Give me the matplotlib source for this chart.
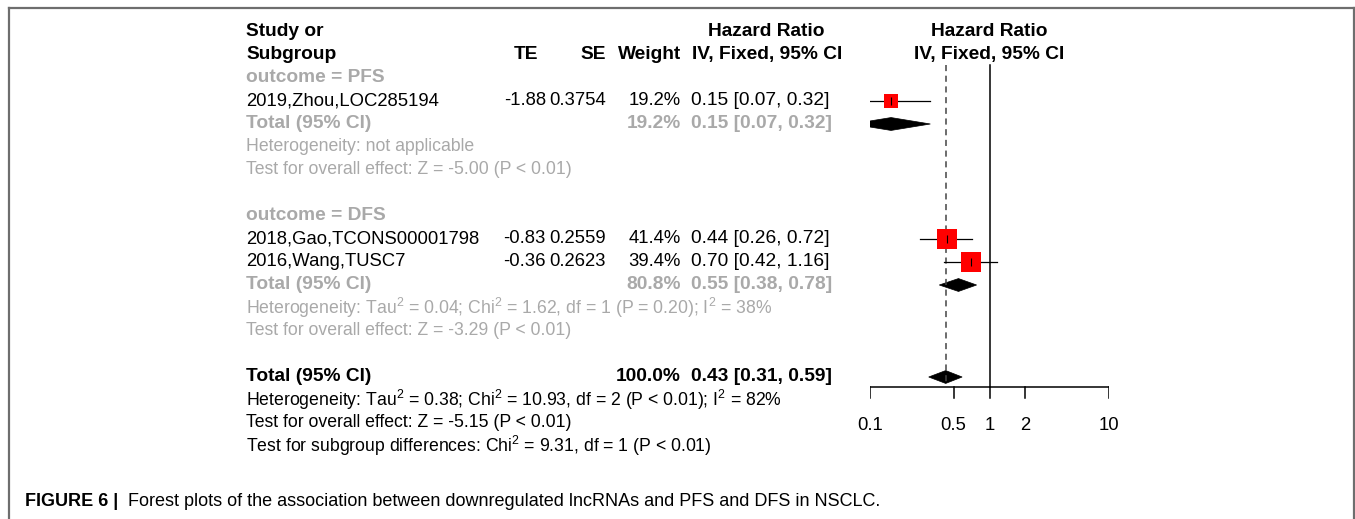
import matplotlib
matplotlib.use("Agg")
import matplotlib.pyplot as plt
from matplotlib.lines import Line2D
from matplotlib.patches import Polygon

plt.rcParams['font.family'] = ['Liberation Sans', 'DejaVu Sans']
plt.rcParams['mathtext.fontset'] = 'custom'
plt.rcParams['mathtext.rm'] = 'Liberation Sans'
plt.rcParams['mathtext.it'] = 'Liberation Sans:italic'
plt.rcParams['mathtext.bf'] = 'Liberation Sans:bold'

# Study level data
studies = ["2019,Zhou,LOC285194", "2018,Gao,TCONS00001798", "2016,Wang,TUSC7"]
study_rows = [3, 9, 10]
te = [-1.88, -0.83, -0.36]
se = [0.3754, 0.2559, 0.2623]
weight = [19.2, 41.4, 39.4]
hr = [0.15, 0.44, 0.70]
hr_lo = [0.07, 0.26, 0.42]
hr_hi = [0.32, 0.72, 1.16]

# Subgroup totals
subgroups = ["PFS", "DFS"]
sub_label_rows = [2, 8]
sub_total_rows = [4, 11]
sub_weight = [19.2, 80.8]
sub_hr = [0.15, 0.55]
sub_lo = [0.07, 0.38]
sub_hi = [0.32, 0.78]
sub_het = ["Heterogeneity: not applicable",
           "Heterogeneity: Tau$^2$ = 0.04; Chi$^2$ = 1.62, df = 1 (P = 0.20); I$^2$ = 38%"]
sub_test = ["Test for overall effect: Z = -5.00 (P < 0.01)",
            "Test for overall effect: Z = -3.29 (P < 0.01)"]

# Overall
total_row = 15
total_weight = 100.0
total_hr = 0.43
total_lo = 0.31
total_hi = 0.59
total_notes = ["Heterogeneity: Tau$^2$ = 0.38; Chi$^2$ = 10.93, df = 2 (P < 0.01); I$^2$ = 82%",
               "Test for overall effect: Z = -5.15 (P < 0.01)",
               "Test for subgroup differences: Chi$^2$ = 9.31, df = 1 (P < 0.01)"]

ticks = [0.1, 0.5, 1, 2, 10]

W, H = 1355, 519
ROW0, ROWH = 32, 23.0
ylim = ((H - ROW0) / ROWH, -ROW0 / ROWH)
FS = 13.3      # names / numbers
FS_NOTE = 12.7 # heterogeneity and test lines
FS_B = 13.8    # bold labels
GRAY = "#a9a9a9"

fig = plt.figure(figsize=(W / 100, H / 100), dpi=100)

# text layer in pixel x / row y
ax_t = fig.add_axes([0, 0, 1, 1])
ax_t.set_xlim(0, W)
ax_t.set_ylim(*ylim)
ax_t.axis('off')

X_NAME, X_TE, X_SE, X_W, X_HR = 246, 546, 606, 681, 691

def txt(x, r, s, ha='left', color='black', weight='normal', size=None):
    if size is None:
        size = FS_B if weight == 'bold' else FS
    ax_t.text(x, r, s, ha=ha, va='center', color=color, fontweight=weight, fontsize=size)

# headers
txt(X_NAME, 0, "Study or", weight='bold')
txt(X_NAME, 1, "Subgroup", weight='bold')
txt(538, 1, "TE", ha='right', weight='bold')
txt(X_SE, 1, "SE", ha='right', weight='bold')
txt(X_W, 1, "Weight", ha='right', weight='bold')
txt(766, 0, "Hazard Ratio", ha='center', weight='bold')
txt(842, 1, "IV, Fixed, 95% CI", ha='right', weight='bold')
txt(989, 0, "Hazard Ratio", ha='center', weight='bold')
txt(989, 1, "IV, Fixed, 95% CI", ha='center', weight='bold')

for name, r, t, s, w, h, lo, hi in zip(studies, study_rows, te, se, weight, hr, hr_lo, hr_hi):
    txt(X_NAME, r, name)
    txt(X_TE, r, f"{t:.2f}", ha='right')
    txt(X_SE, r, f"{s:.4f}", ha='right')
    txt(X_W, r, f"{w:.1f}%", ha='right')
    txt(X_HR, r, f"{h:.2f} [{lo:.2f}, {hi:.2f}]", size=13.8)

for g, lr, tr, w, h, lo, hi, het, test in zip(subgroups, sub_label_rows, sub_total_rows,
                                              sub_weight, sub_hr, sub_lo, sub_hi, sub_het, sub_test):
    txt(X_NAME, lr, f"outcome = {g}", color=GRAY, weight='bold')
    txt(X_NAME, tr, "Total (95% CI)", color=GRAY, weight='bold')
    txt(X_W, tr, f"{w:.1f}%", ha='right', color=GRAY, weight='bold')
    txt(X_HR, tr, f"{h:.2f} [{lo:.2f}, {hi:.2f}]", color=GRAY, weight='bold')
    txt(X_NAME, tr + 1, het, color=GRAY, size=FS_NOTE)
    txt(X_NAME, tr + 2, test, color=GRAY, size=FS_NOTE)

txt(X_NAME, total_row, "Total (95% CI)", weight='bold')
txt(X_W, total_row, f"{total_weight:.1f}%", ha='right', weight='bold')
txt(X_HR, total_row, f"{total_hr:.2f} [{total_lo:.2f}, {total_hi:.2f}]", weight='bold')
for i, note in enumerate(total_notes):
    txt(X_NAME, total_row + 1 + i, note, size=FS_NOTE)

# forest panel on log scale
ax = fig.add_axes([870 / W, 0, 239 / W, 1])
ax.set_xscale('log')
ax.set_xlim(ticks[0], ticks[-1])
ax.set_ylim(*ylim)
ax.axis('off')

axis_row = (387 - ROW0) / ROWH
top_row = (65 - ROW0) / ROWH
ax.plot([1, 1], [top_row, axis_row], color='black', lw=1.1)
ax.plot([total_hr, total_hr], [top_row, axis_row - 0.2], color='#444444', lw=1.1, ls=(0, (4, 3)))
ax.plot([ticks[0], ticks[-1]], [axis_row, axis_row], color='black', lw=1.1)
for t in ticks:
    ax.plot([t, t], [axis_row, axis_row + 0.48], color='black', lw=1.1)
    ax.text(t, 17.1, f"{t:g}", ha='center', va='center', fontsize=FS)

for r, w, h, lo, hi in zip(study_rows, weight, hr, hr_lo, hr_hi):
    ax.plot([lo, hi], [r, r], color='black', lw=0.9, zorder=2)
    ax.plot(h, r, marker='s', color='red', markersize=2.3 * w ** 0.5, mew=0, zorder=3)
    ax.plot(h, r, marker='|', color='black', markersize=6, mew=0.8, zorder=4)

half = 0.28
for r, h, lo, hi in zip(sub_total_rows + [total_row], sub_hr + [total_hr],
                        sub_lo + [total_lo], sub_hi + [total_hi]):
    ax.add_patch(Polygon([(lo, r), (h, r - half), (hi, r), (h, r + half)],
                         closed=True, color='black', lw=0.5))

# caption
fig.text(25 / W, 1 - 501 / H, "FIGURE 6 |", fontweight='bold', fontsize=13.0, va='center')
fig.text(128 / W, 1 - 501 / H,
         "Forest plots of the association between downregulated lncRNAs and PFS and DFS in NSCLC.",
         fontsize=13.0, va='center')

# frame
for xs, ys in [([9, 9], [8, H]), ([9, 1354], [8, 8]), ([1354, 1354], [8, H])]:
    fig.add_artist(Line2D([x / W for x in xs], [1 - y / H for y in ys], color='#6e6e6e', lw=1.6))

fig.savefig("out.png", dpi=100)
